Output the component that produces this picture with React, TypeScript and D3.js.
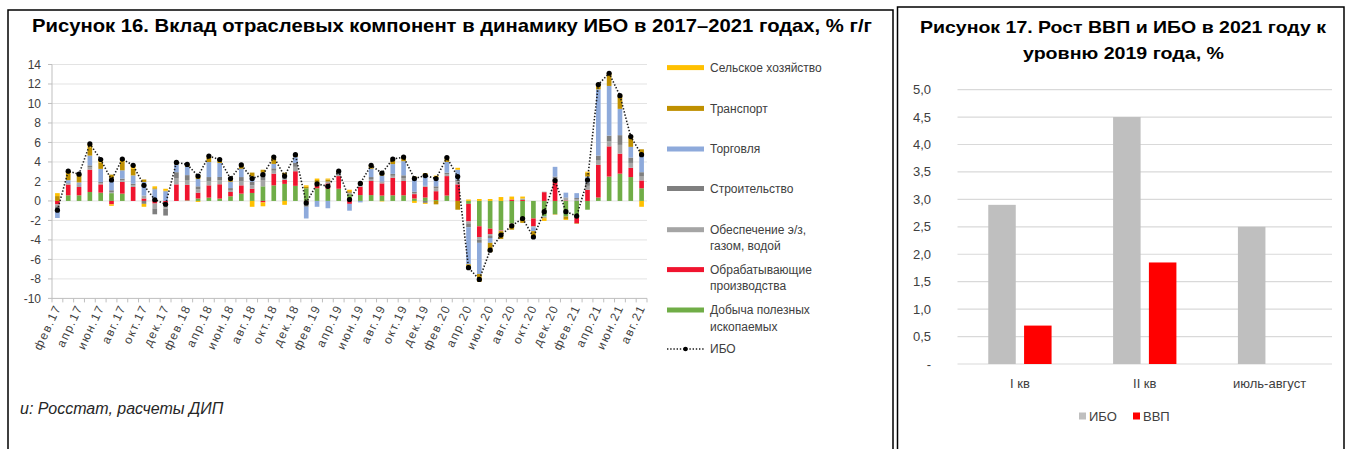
import React from "react";
import * as d3 from "d3";

// ---------- Figure 16 data (monthly, фев.17 – авг.21) ----------
const categories = [
  "фев.17","мар.17","апр.17","май.17","июн.17","июл.17","авг.17","сен.17","окт.17","ноя.17","дек.17",
  "янв.18","фев.18","мар.18","апр.18","май.18","июн.18","июл.18","авг.18","сен.18","окт.18","ноя.18","дек.18",
  "янв.19","фев.19","мар.19","апр.19","май.19","июн.19","июл.19","авг.19","сен.19","окт.19","ноя.19","дек.19",
  "янв.20","фев.20","мар.20","апр.20","май.20","июн.20","июл.20","авг.20","сен.20","окт.20","ноя.20","дек.20",
  "янв.21","фев.21","мар.21","апр.21","май.21","июн.21","июл.21","авг.21",
];

const mining = [
  0, 0.58, 0.58, 0.92, 0.85, 0.8, 0.75, 0, 0, 0, 0,
  0, 0.05, 0.25, 0.34, 0.24, 0.48, 0.75, 0.82, 1.5, 1.6, 1.75, 1.55,
  1.3, 1.3, 1.25, 1.25, 0.7, 0.6, 0.6, 0.55, 0.58, 0.58, 0.25, 0.35,
  0.1, 0.55, 0, -0.3, -2.6, -2.85, -3.0, -2.3, -1.9, -1.8, -1.6, -1.35,
  -1.6, -1.7, -0.9, 0.35, 2.5, 2.8, 2.45, 1.3,
];
const manufacturing = [
  -0.35, 1.1, 0.85, 2.29, 0.85, -0.35, 1.2, 1.43, 0.25, -0.27, -0.2,
  1.7, 1.6, 0.6, 1.26, 1.47, 0.44, 0.85, 0.44, -0.15, 1.2, 0.4, 1.5,
  -0.1, 0.35, 0.55, 1.3, -0.3, 0.85, 1.45, 1.25, 1.8, 1.47, 0.45, 1.1,
  0.9, 2.0, 1.7, -1.8, -1.1, -0.55, -0.05, 0.15, 0.1, -0.8, 0.9, 2.0,
  0.05, -0.6, 1.15, 3.35, 3.1, 2.05, 0.95, 0.8,
];
const utilities = [
  -0.2, 0.1, 0.15, 0.22, 0.12, 0.1, 0.17, 0.17, 0.3, -0.5, -0.6,
  0.6, 0.5, 0.35, 0.45, 0.4, 0.2, 0.45, 0.35, 0.6, 0.3, 0.1, 0.45,
  -0.3, 0.15, 0.1, 0.1, 0.1, 0.15, 0.2, 0.1, 0.2, 0.3, 0.1, 0.1,
  0.3, 0.2, 0.3, -0.2, -0.3, -0.2, -0.05, -0.05, 0.15, -0.1, 0.05, 0.3,
  0.2, 0.15, 0.4, 0.5, 0.5, 0.9, 0.5, 0.4,
];
const construction = [
  -0.2, 0.05, 0.12, 0.22, 0.12, 0.2, 0.17, 0.17, -0.3, -0.6, -0.7,
  0.65, 0.5, 0.3, 0.4, 0.35, 0.2, 0.4, 0.35, 0.45, 0.25, 0.1, 0.4,
  -0.2, 0.1, 0.1, 0.1, 0.05, 0.05, 0.2, 0.1, 0.2, 0.28, 0.15, -0.2,
  0.2, 0.15, 0.2, -0.4, -0.3, -0.2, 0, 0, 0, 0, 0, 0.2,
  0.1, 0.15, 0.35, 0.45, 0.6, 1.0, 0.55, 0.45,
];
const trade = [
  -1.0, 0.3, 0.2, 1.0, 1.35, 1.2, 0.85, 0.85, 1.4, 1.2, 1.0,
  0.8, 0.85, 0.75, 1.54, 1.43, 0.65, 0.85, 0.55, 0.35, 0.45, 0.1, 0.6,
  -1.2, -0.6, -0.75, 0.1, -0.7, -0.15, 0.85, 0.6, 1.0, 1.45, 1.3, 1.0,
  0.95, 1.1, 1.0, -3.8, -3.2, -0.5, 0, 0, 0, -0.4, -0.1, 1.0,
  0.5, 0.5, 0.6, 6.8, 5.1, 2.7, 1.1, 1.85,
];
const transport = [
  0.5, 0.65, 0.75, 0.8, 0.65, 0.4, 0.85, 0.68, 0.25, 0.1, 0.05,
  0.25, 0.3, 0.4, 0.45, 0.28, 0.24, 0.3, 0.4, 0.3, 0.5, 0.45, 0.25,
  0.15, 0.25, 0.2, 0.2, 0.15, 0.3, 0.3, 0.3, 0.45, 0.4, 0.25, 0.3,
  -0.35, 0.35, -0.9, -0.5, -0.8, -0.95, -0.8, -0.6, -0.35, -0.6, -0.1, -0.05,
  -0.25, -0.05, 0.4, 0.5, 1.2, 1.3, 1.0, 0.5,
];
const agriculture = [
  0.3, 0.3, 0.1, 0.4, 0.3, -0.15, 0.3, 0.34, -0.3, 0.2, 0.2,
  0, 0, -0.1, 0.15, 0.1, 0.1, 0.1, -0.6, -0.4, 0.2, -0.4, 0,
  0.15, 0.15, 0.1, 0, 0.15, 0, 0.05, -0.05, 0.05, 0.04, -0.2, -0.1,
  0.15, 0.05, 0.2, 0.15, 0.2, 0.2, 0.4, 0.3, 0.2, 0, -0.25, 0,
  -0.1, 0, 0.1, 0.05, 0.1, 0.1, 0.05, -0.6,
];
const ibo = [
  -0.95, 3.05, 2.75, 5.85, 4.25, 2.15, 4.3, 3.65, 1.6, 0.12, -0.34,
  3.95, 3.75, 2.55, 4.6, 4.25, 2.3, 3.7, 2.3, 2.7, 4.5, 2.55, 4.75,
  -0.2, 1.75, 1.5, 3.05, 0.15, 1.8, 3.65, 2.85, 4.3, 4.5, 2.3, 2.6,
  2.3, 4.45, 2.5, -6.85, -8.05, -5.05, -3.5, -2.55, -1.8, -3.7, -1.1, 2.1,
  -1.1, -1.55, 2.15, 11.95, 13.1, 10.8, 6.6, 4.75,
];
const leftTicks = [-10, -8, -6, -4, -2, 0, 2, 4, 6, 8, 10, 12, 14];

// ---------- Figure 17 data ----------
const periods = ["I кв", "II кв", "июль-август"];
const iboGrowth = [2.9, 4.5, 2.5];
const gdpGrowth: (number | null)[] = [0.7, 1.85, null];
const rightTicks = [0, 0.5, 1, 1.5, 2, 2.5, 3, 3.5, 4, 4.5, 5];

const seriesDefs = [
  { key: "mining", name: ["Добыча полезных", "ископаемых"], color: "#70ad47", data: mining },
  { key: "manufacturing", name: ["Обрабатывающие", "производства"], color: "#f0142f", data: manufacturing },
  { key: "utilities", name: ["Обеспечение э/з,", "газом, водой"], color: "#a5a5a5", data: utilities },
  { key: "construction", name: ["Строительство"], color: "#7f7f7f", data: construction },
  { key: "trade", name: ["Торговля"], color: "#8eaadb", data: trade },
  { key: "transport", name: ["Транспорт"], color: "#bf9000", data: transport },
  { key: "agriculture", name: ["Сельское хозяйство"], color: "#ffc000", data: agriculture },
];

const FONT = "'Liberation Sans', Arial, sans-serif";
const TXT = "#404040";

function LeftChart() {
  const x = d3.scaleBand<string>().domain(categories).range([52, 647]).paddingInner(0.57).paddingOuter(0.285);
  const step = x.step();
  const y = d3.scaleLinear().domain([-10, 14]).range([298.4, 64.5]);
  const rows = categories.map((c, i) => {
    const r: Record<string, number | string> = { cat: c };
    seriesDefs.forEach((s) => (r[s.key] = s.data[i]));
    return r;
  });
  const stacked = d3
    .stack<Record<string, number | string>>()
    .keys(seriesDefs.map((s) => s.key))
    .value((d, k) => d[k] as number)
    .offset(d3.stackOffsetDiverging)(rows);
  const line = d3
    .line<number>()
    .x((_, i) => (x(categories[i]) as number) + x.bandwidth() / 2)
    .y((d) => y(d));

  const legendY = [67.6, 108.4, 149, 188.5, 229.7, 269.6, 310];
  const legendOrder = [...seriesDefs].reverse();

  return (
    <g>
      {leftTicks.map((t) => (
        <g key={t}>
          <line x1={52} x2={647} y1={y(t)} y2={y(t)} stroke={t === -10 ? "#bfbfbf" : "#e3e3e3"} strokeWidth={1} />
          <line x1={48} x2={52} y1={y(t)} y2={y(t)} stroke="#bfbfbf" />
          <text x={41} y={y(t)} dy="0.35em" textAnchor="end" fontSize={12} fill={TXT} fontFamily={FONT}>
            {t}
          </text>
        </g>
      ))}
      <line x1={52} x2={52} y1={y(14)} y2={y(-10)} stroke="#bfbfbf" />
      {categories.map((c, i) => (
        <line key={c} x1={52 + i * step + step} x2={52 + i * step + step} y1={y(-10)} y2={y(-10) + 4} stroke="#bfbfbf" />
      ))}
      <line x1={52} x2={52} y1={y(-10)} y2={y(-10) + 4} stroke="#bfbfbf" />
      {stacked.map((layer, li) => (
        <g key={layer.key} fill={seriesDefs[li].color}>
          {layer.map((d, i) => {
            const y0 = y(d[0]);
            const y1 = y(d[1]);
            return (
              <rect
                key={i}
                x={x(categories[i])}
                width={x.bandwidth()}
                y={Math.min(y0, y1)}
                height={Math.abs(y0 - y1)}
              />
            );
          })}
        </g>
      ))}
      <path d={line(ibo) || ""} fill="none" stroke="#1a1a1a" strokeWidth={1.6} strokeDasharray="1.4,1.8" />
      {ibo.map((v, i) => (
        <circle key={i} cx={(x(categories[i]) as number) + x.bandwidth() / 2} cy={y(v)} r={2.6} fill="#000" />
      ))}
      {categories.map((c, i) =>
        i % 2 === 0 ? (
          <text
            key={c}
            transform={`translate(${(x(c) as number) + x.bandwidth() / 2 + 4},${307}) rotate(-65)`}
            textAnchor="end"
            fontSize={12}
            letterSpacing={1.5}
            fill={TXT}
            fontFamily={FONT}
          >
            {c}
          </text>
        ) : null
      )}
      {legendOrder.map((s, k) => (
        <g key={s.key}>
          <rect x={667} y={legendY[k] - 2.5} width={37} height={5} fill={s.color} />
          {s.name.map((n, j) => (
            <text key={j} x={710} y={legendY[k] + j * 16.5} dy="0.35em" fontSize={12} fill={TXT} fontFamily={FONT}>
              {n}
            </text>
          ))}
        </g>
      ))}
      <line x1={667} x2={704} y1={349} y2={349} stroke="#1a1a1a" strokeWidth={1.5} strokeDasharray="1.4,1.8" />
      <circle cx={685.5} cy={349} r={2.3} fill="#000" />
      <text x={710} y={349} dy="0.35em" fontSize={12} fill={TXT} fontFamily={FONT}>
        ИБО
      </text>
    </g>
  );
}

function RightChart() {
  const x0 = d3.scaleBand<string>().domain(periods).range([957.5, 1332]);
  const x1 = d3.scaleBand<string>().domain(["ИБО", "ВВП"]).range([0, x0.bandwidth()]).paddingInner(0.232).paddingOuter(0.859);
  const y = d3.scaleLinear().domain([0, 5]).range([364, 89.6]);
  const fmt = (t: number) => (t === 0 ? "-" : d3.format(".1f")(t).replace(".", ","));
  return (
    <g>
      {rightTicks.map((t) => (
        <g key={t}>
          <line x1={957.5} x2={1332} y1={y(t)} y2={y(t)} stroke="#d9d9d9" strokeWidth={1.2} />
          <text x={931} y={y(t)} dy="0.35em" textAnchor="end" fontSize={13} fill={TXT} fontFamily={FONT}>
            {fmt(t)}
          </text>
        </g>
      ))}
      {periods.map((p, i) => (
        <g key={p} transform={`translate(${x0(p)},0)`}>
          <rect x={x1("ИБО")} width={x1.bandwidth()} y={y(iboGrowth[i])} height={y(0) - y(iboGrowth[i])} fill="#bfbfbf" />
          {gdpGrowth[i] != null ? (
            <rect
              x={x1("ВВП")}
              width={x1.bandwidth()}
              y={y(gdpGrowth[i] as number)}
              height={y(0) - y(gdpGrowth[i] as number)}
              fill="#ff0000"
            />
          ) : null}
          <text x={x0.bandwidth() / 2} y={383} dy="0.35em" textAnchor="middle" fontSize={13} fill={TXT} fontFamily={FONT}>
            {p}
          </text>
        </g>
      ))}
      <rect x={1079} y={412.5} width={7} height={7} fill="#bfbfbf" />
      <text x={1089} y={416} dy="0.35em" fontSize={13} fill={TXT} fontFamily={FONT}>
        ИБО
      </text>
      <rect x={1133} y={412.5} width={7} height={7} fill="#ff0000" />
      <text x={1143} y={416} dy="0.35em" fontSize={13} fill={TXT} fontFamily={FONT}>
        ВВП
      </text>
    </g>
  );
}

export default function App() {
  return (
    <svg
      width={1347}
      height={449}
      viewBox="0 0 1347 449"
      style={{ position: "absolute", left: 0, top: 0, background: "#fff" }}
    >
      <rect x={0} y={0} width={1347} height={449} fill="#fff" />
      {/* panel frames */}
      <path d="M8,460 L8,10 L893,10 L893,460" fill="none" stroke="#000" strokeWidth={1.5} />
      <path d="M897.5,460 L897.5,7 L1344,7 L1344,460" fill="none" stroke="#000" strokeWidth={1.5} />
      <text
        x={32}
        y={32}
        fontSize={18.5}
        fontWeight="bold"
        fontFamily="'Liberation Sans Narrow', 'Arial Narrow', 'Liberation Sans', sans-serif"
        textLength={840}
        lengthAdjust="spacingAndGlyphs"
        fill="#000"
      >
        Рисунок 16. Вклад отраслевых компонент в динамику ИБО в 2017–2021 годах, % г/г
      </text>
      <text x={1123} y={33} textAnchor="middle" fontSize={16.5} fontWeight="bold" fontFamily={FONT} textLength={406} lengthAdjust="spacingAndGlyphs" fill="#000">
        Рисунок 17. Рост ВВП и ИБО в 2021 году к
      </text>
      <text x={1123.5} y={59} textAnchor="middle" fontSize={16.5} fontWeight="bold" fontFamily={FONT} textLength={201} lengthAdjust="spacingAndGlyphs" fill="#000">
        уровню 2019 года, %
      </text>
      <LeftChart />
      <RightChart />
      <text x={20} y={414} fontSize={16} fontStyle="italic" fill="#262626" fontFamily={FONT}>
        и: Росстат, расчеты ДИП
      </text>
    </svg>
  );
}
